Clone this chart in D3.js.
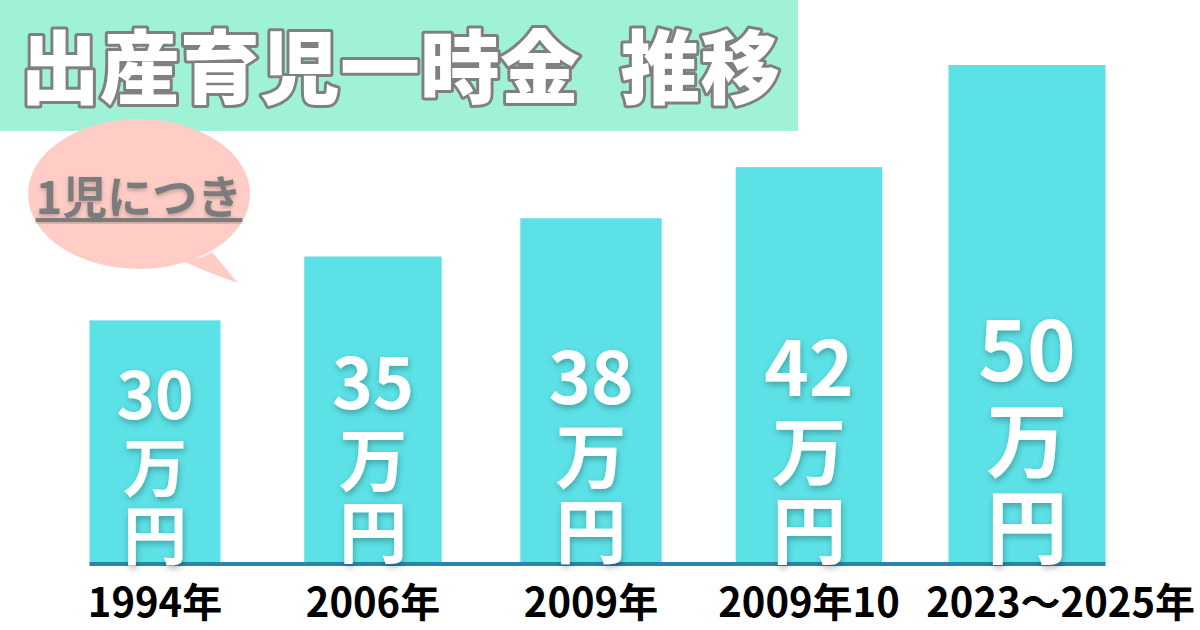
<!DOCTYPE html>
<html><head><meta charset="utf-8">
<script src="https://cdn.jsdelivr.net/npm/d3@7"></script>
<style>
html,body{margin:0;padding:0;background:#fff;}
svg{display:block;font-family:"Noto Sans CJK JP","Noto Sans",sans-serif;}
</style></head>
<body>
<script>
const categories = ["1994年", "2006年", "2009年", "2009年10", "2023～2025年"];
const values = [30, 35, 38, 42, 50];
const unitLines = ["万", "円"];
const titleMain = "出産育児一時金";
const titleSub = "推移";
const noteText = "1児につき";

const W = 1200, H = 630;
const baseY = 563;
const svg = d3.select("body").append("svg").attr("width", W).attr("height", H);

const defs = svg.append("defs");
const f = defs.append("filter").attr("id", "sh").attr("x", "-30%").attr("y", "-30%").attr("width", "160%").attr("height", "160%");
f.append("feDropShadow").attr("dx", 1).attr("dy", 3).attr("stdDeviation", 3).attr("flood-color", "#000").attr("flood-opacity", 0.28);
const f2 = defs.append("filter").attr("id", "sh2").attr("x", "-30%").attr("y", "-30%").attr("width", "160%").attr("height", "160%");
f2.append("feDropShadow").attr("dx", 0).attr("dy", 2).attr("stdDeviation", 2).attr("flood-color", "#000").attr("flood-opacity", 0.25);

// scales
const x = d3.scalePoint().domain(categories).range([155, 1027]);
const y = d3.scaleLinear().domain([11, 50]).range([baseY, 65]);
const wScale = d3.scaleLinear().domain([30, 50]).range([131, 157]);
const fsScale = d3.scaleLinear().domain([30, 50]).range([64, 81]);

// title box
svg.append("rect").attr("x", 0).attr("y", 0).attr("width", 798).attr("height", 131).attr("fill", "#9ff2d6");

// speech bubble
const bub = svg.append("g");
bub.append("path")
  .attr("d", "M172,256 Q200,262 212,252 L238,283 Q205,272 172,256 Z")
  .attr("fill", "#ffcdc6");
bub.append("ellipse").attr("cx", 139).attr("cy", 194).attr("rx", 111).attr("ry", 75).attr("fill", "#ffcdc6");
const note = bub.append("text").attr("x", 139).attr("y", 214).attr("text-anchor", "middle")
  .attr("font-size", 45).attr("font-weight", 700).attr("fill", "#7b7b7b")
  .attr("filter", "url(#sh2)").text(noteText);
const nb = note.node().getBBox();
bub.append("rect").attr("x", nb.x).attr("y", 218).attr("width", nb.width).attr("height", 4)
  .attr("fill", "#7b7b7b").attr("filter", "url(#sh2)");

// title
const tt = svg.append("text").attr("x", 20).attr("y", 97)
  .attr("font-size", 80).attr("font-weight", 900)
  .attr("fill", "#fff").attr("stroke", "#808080").attr("stroke-width", 6)
  .attr("stroke-linejoin", "round").attr("paint-order", "stroke");
tt.append("tspan").text(titleMain + " ");
tt.append("tspan").attr("dx", 22).text(titleSub);

// bars
const data = categories.map((c, i) => ({c, v: values[i]}));
svg.append("g").selectAll("rect").data(data).join("rect")
  .attr("x", d => x(d.c) - wScale(d.v) / 2)
  .attr("width", d => wScale(d.v))
  .attr("y", d => y(d.v))
  .attr("height", d => baseY - y(d.v))
  .attr("fill", "#5ce1e6");

// axis line
svg.append("line")
  .attr("x1", x(categories[0]) - wScale(values[0]) / 2)
  .attr("x2", x(categories[4]) + wScale(values[4]) / 2)
  .attr("y1", baseY + 1).attr("y2", baseY + 1)
  .attr("stroke", "#2a86a8").attr("stroke-width", 4);

// bar labels (one text per bar, stacked tspans)
const lg = svg.append("g").attr("fill", "#fff").attr("font-weight", 700).attr("text-anchor", "middle").attr("filter", "url(#sh)");
data.forEach(d => {
  const fs = fsScale(d.v);
  const cx = x(d.c);
  const enBase = baseY - 0.45 * fs + 0.38 * fs;   // baseline of 円
  const step = 1.06 * fs;
  const t = lg.append("text").attr("x", cx).attr("y", enBase - 2 * step - 0.06 * fs).attr("font-size", fs);
  t.append("tspan").attr("x", cx).attr("font-size", fs * 1.02).text(d.v);
  t.append("tspan").attr("x", cx).attr("dy", step + 0.06 * fs).text(unitLines[0]);
  t.append("tspan").attr("x", cx).attr("dy", step).text(unitLines[1]);
});

// category labels
const cl = svg.append("g").attr("font-size", 40).attr("font-weight", 700).attr("fill", "#000");
data.forEach((d, i) => {
  const t = cl.append("text").attr("y", 617).text(d.c);
  if (i === data.length - 1) t.attr("x", 1195).attr("text-anchor", "end");
  else t.attr("x", x(d.c)).attr("text-anchor", "middle");
});
</script>
</body></html>
